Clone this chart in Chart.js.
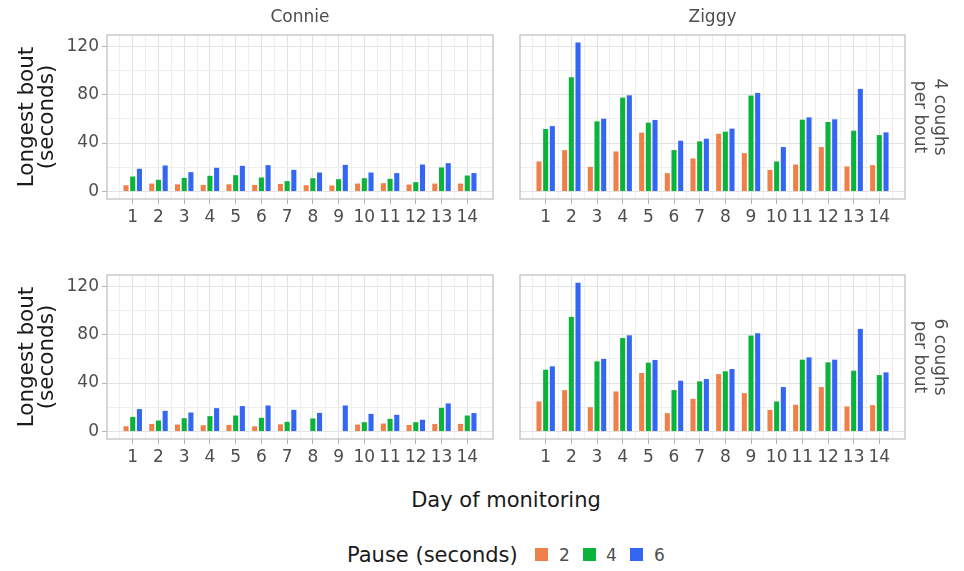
<!DOCTYPE html>
<html><head><meta charset="utf-8">
<script src="https://cdn.jsdelivr.net/npm/chart.js@4.4.1/dist/chart.umd.min.js"></script>
<style>
html,body{margin:0;padding:0;background:#fff;width:964px;height:571px;overflow:hidden;font-family:'DejaVu Sans',sans-serif;}
canvas{position:absolute;}
.t{position:absolute;white-space:nowrap;color:#1a1a1a;}
.k{position:absolute;width:13px;height:13px;}
</style></head>
<body>
<canvas id="c1" width="500" height="240" style="left:0;top:0"></canvas>
<canvas id="c2" width="457" height="240" style="left:507px;top:0"></canvas>
<canvas id="c3" width="500" height="230" style="left:0;top:240px"></canvas>
<canvas id="c4" width="457" height="230" style="left:507px;top:240px"></canvas>
<div class="t" id="xtitle" style="left:306px;width:400px;top:487px;text-align:center;font-size:21px;line-height:26px;">Day of monitoring</div>
<div id="legend"></div>
<script>
// ---- data ----
const days = [1,2,3,4,5,6,7,8,9,10,11,12,13,14];
const pauses = ['2','4','6'];
const facetNames = ['Connie','Ziggy'];
const rowNames = [['4 coughs','per bout'],['6 coughs','per bout']];
const yTicks = [0,20,40,60,80,100,120];
const yLabelTicks = [0,40,80,120];
const xMinorTicks = [0.5,1.5,2.5,3.5,4.5,5.5,6.5,7.5,8.5,9.5,10.5,11.5,12.5,13.5,14.5];

const connie4_p2 = [5.2,6.6,6.0,5.5,6.0,5.5,6.3,5.2,5.0,6.6,6.9,5.8,6.6,6.6];
const connie4_p4 = [12.4,9.7,11.3,13.0,13.5,11.6,8.6,11.0,10.2,11.0,10.5,7.7,19.9,13.2];
const connie4_p6 = [18.8,21.5,16.0,19.6,21.2,21.8,17.9,15.7,22.0,15.7,15.2,22.3,23.4,15.2];

const ziggy4_p2 = [24.8,34.2,20.4,33.1,48.6,15.2,27.3,47.7,31.7,17.9,22.3,36.7,20.7,21.8];
const ziggy4_p4 = [51.6,94.3,57.9,77.5,56.8,34.2,41.4,49.4,79.2,24.8,59.3,57.4,50.2,46.6];
const ziggy4_p6 = [54.0,123.0,60.1,79.4,59.0,41.9,43.6,51.9,81.4,36.7,61.2,59.6,84.7,48.8];

const connie6_p2 = [4.4,6.3,5.8,5.2,5.5,4.4,6.0,null,null,5.8,6.6,5.5,6.3,6.3];
const connie6_p4 = [12.1,9.1,11.0,12.7,13.2,11.3,8.0,10.8,null,7.7,10.5,7.7,19.6,13.2];
const connie6_p6 = [18.5,17.1,15.7,19.3,21.0,21.5,17.9,15.4,21.5,14.6,13.8,9.7,23.2,15.2];

const ziggy6_p2 = [24.8,34.2,20.1,33.1,48.3,15.2,27.0,47.4,31.7,17.9,22.1,36.7,20.7,21.8];
const ziggy6_p4 = [51.0,94.6,57.9,77.2,56.8,34.2,41.4,49.7,79.2,24.8,59.3,57.1,50.2,46.6];
const ziggy6_p6 = [53.8,122.8,59.9,79.4,59.0,41.9,43.3,51.6,81.1,36.7,61.2,59.3,84.7,48.8];

// ---- styles ----
const colors = ['#F0804A','#0AB33A','#3366F2'];
const MAJOR = '#E3E3E3', MINOR = '#EFEFEF', FRAME = '#BDBDBD', TICK = '#B3B3B3', TXT = '#4D4D4D';
Chart.defaults.font.family = "'DejaVu Sans', sans-serif";

const frame = { id:'frame', afterDatasetsDraw(chart){
  const {ctx, chartArea:a} = chart; ctx.save(); ctx.strokeStyle = FRAME; ctx.lineWidth = 1.2;
  ctx.strokeRect(a.left, a.top, a.right - a.left, a.bottom - a.top); ctx.restore(); } };

function panel(id, series, o) {
  const datasets = series.map((vals,k)=>({
    label: pauses[k],
    data: days.map((d,i)=>({x:d, y:vals[i]})),
    backgroundColor: colors[k], borderWidth: 0,
    categoryPercentage: 0.78, barPercentage: 0.76,
    xAxisID:'x', yAxisID:'y'
  }));
  new Chart(document.getElementById(id), {
    type:'bar',
    data:{datasets},
    plugins:[frame],
    options:{
      responsive:false, animation:false, devicePixelRatio:1,
      layout:{padding:o.pad},
      plugins:{
        legend:{display:false}, tooltip:{enabled:false},
        title:{display:!!o.name, text:o.name||'', fullSize:false, color:TXT,
          font:{size:17, weight:'normal', lineHeight:1.2}, padding:{top:7.6,bottom:7}}
      },
      scales:{
        x:{type:'linear', min:0, max:15, position:'bottom', offset:false,
          afterBuildTicks: s => { s.ticks = days.map(v=>({value:v})); },
          ticks:{autoSkip:false, maxRotation:0, color:TXT, font:{size:17}, padding:3, callback:v=>String(v)},
          grid:{offset:false, color:MAJOR, lineWidth:1, tickLength:5, tickColor:TICK, tickWidth:1},
          border:{display:false},
          afterFit: s => { s.height = o.xH; }
        },
        x2:{type:'linear', min:0, max:15, position:'bottom', offset:false,
          afterBuildTicks: s => { s.ticks = xMinorTicks.map(v=>({value:v})); },
          ticks:{display:false}, grid:{offset:false, color:MINOR, lineWidth:1, drawTicks:false},
          border:{display:false}, afterFit: s => { s.height = 0; }
        },
        y:{type:'linear', min:-6.15, max:129.15, position:'left',
          afterBuildTicks: s => { s.ticks = yTicks.map(v=>({value:v})); },
          ticks:{display:o.showY, color:TXT, font:{size:17}, padding:3,
            callback:v=> yLabelTicks.includes(v) ? String(v) : ''},
          grid:{color:c => (c.tick && yLabelTicks.includes(c.tick.value)) ? MAJOR : MINOR,
            lineWidth:1, tickLength:5, drawTicks:o.showY,
            tickColor:c => (c.tick && yLabelTicks.includes(c.tick.value)) ? TICK : 'rgba(0,0,0,0)'},
          border:{display:false},
          title:{display:o.showY, text:['Longest bout','(seconds)'], color:'#1a1a1a',
            font:{size:21.5, lineHeight:0.93}, padding:{top:17,bottom:0}},
          afterFit: s => { s.width = o.showY ? 107 : 0; }
        },
        yr:{type:'linear', position:'right', display:!!o.strip,
          ticks:{display:false}, grid:{display:false}, border:{display:false},
          title:{display:!!o.strip, text:o.strip||'', color:TXT, font:{size:17, lineHeight:1.15}, padding:{top:15,bottom:0}},
          afterFit: s => { s.width = o.strip ? 59 : 0; }
        }
      }
    }
  });
}

panel('c1', [connie4_p2, connie4_p4, connie4_p6], {name:facetNames[0], showY:true, pad:{left:0,right:7,top:0,bottom:0}, xH:41});
panel('c2', [ziggy4_p2, ziggy4_p4, ziggy4_p6], {name:facetNames[1], showY:false, strip:rowNames[0], pad:{left:13,right:0,top:0,bottom:0}, xH:41});
panel('c3', [connie6_p2, connie6_p4, connie6_p6], {showY:true, pad:{left:0,right:7,top:35,bottom:0}, xH:31});
panel('c4', [ziggy6_p2, ziggy6_p4, ziggy6_p6], {showY:false, strip:rowNames[1], pad:{left:13,right:0,top:35,bottom:0}, xH:31});

// ---- legend ----
const lg = document.getElementById('legend');
const keyX = [535, 583, 630], labX = [559, 606, 654];
lg.innerHTML = '<div class="t" style="left:347px;top:542px;font-size:21px;line-height:26px;">Pause (seconds)</div>' +
  pauses.map((p,k)=>'<div class="k" style="left:'+keyX[k]+'px;top:548px;background:'+colors[k]+'"></div>' +
    '<div class="t" style="left:'+labX[k]+'px;top:544px;font-size:17px;line-height:22px;color:#4D4D4D">'+p+'</div>').join('');
</script>
</body></html>
